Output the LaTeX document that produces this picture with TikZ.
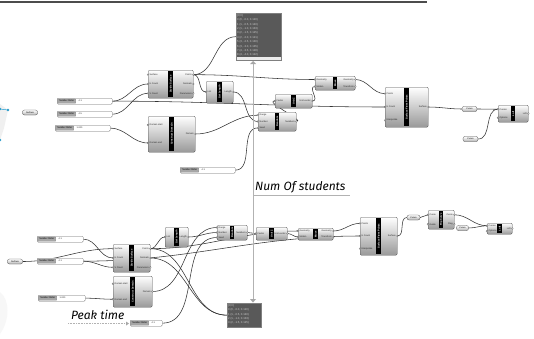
\documentclass[tikz,border=0pt]{standalone}
\usepackage{fontspec}
\setmainfont{Liberation Sans}
\newfontfamily\handfont{Fira Sans}
\usetikzlibrary{positioning}
\usetikzlibrary{calc}
\pgfdeclarelayer{bg}
\pgfsetlayers{bg,main}

\newcommand{\tinyfont}{\fontsize{2.3}{2.6}\selectfont}

\tikzset{
    ghbox/.style = {draw=black!70, line width=0.3pt, rounded corners=1.2pt,
        top color=white, bottom color=black!40, inner sep=0pt},
    ghstrip/.style = {fill=black, text=white, font=\bfseries\fontsize{2.5}{2.8}\selectfont,
        inner sep=0.2pt, minimum height=4.4pt},
    ghport/.style = {font=\tinyfont, inner sep=0.6pt, text=black!85},
    ghnub/.style = {fill=white, draw=black!70, line width=0.2pt},
    ghparam/.style = {draw=black!70, line width=0.3pt, rounded corners=2pt, top color=white,
        bottom color=black!30, font=\tinyfont, inner sep=0pt, minimum height=5pt, minimum width=15pt},
    ghslide/.style = {draw=black!60, line width=0.3pt, rounded corners=1pt, fill=white,
        inner sep=0pt, minimum height=6pt},
    slidelab/.style = {draw=black!60, line width=0.2pt, fill=black!35, rounded corners=0.6pt,
        font=\tinyfont, inner sep=0.3pt, minimum height=4.4pt, minimum width=18pt},
    ghpanel/.style = {fill=black!65, draw=black!50, line width=0.3pt, inner sep=0pt},
    paneltext/.style = {font=\fontsize{2.8}{4.4}\selectfont, text=black!20, align=left, inner sep=1pt},
    wire/.style = {draw=black!80, line width=0.55pt, out=0, in=180},
    guide/.style = {draw=black!30, line width=0.4pt},
    hand/.style = {font=\handfont\itshape\fontsize{12}{13}\selectfont, inner sep=0pt}
}

% component: name, x, y, width, height, title, inputs, outputs
\newcommand{\ghcomp}[8]{%
    \node[ghbox, anchor=north west, minimum width=#4pt, minimum height=#5pt] (#1) at (#2,#3) {};
    \node[ghstrip, rotate=90, minimum width=#5pt-2pt] (#1-t) at (#1.center) {#6};
    \foreach \lab [count=\k] in {#7} {\xdef\nin{\k}}
    \foreach \lab [count=\k] in {#7} {
        \coordinate (#1-i\k) at ($(#1.north west)+(0,{(\k-0.5)*#5/\nin})$);
        \node[ghport, anchor=west] at ([xshift=0.8pt]#1-i\k) {\lab};
        \draw[ghnub] (#1-i\k) circle (0.9pt);
    }
    \foreach \lab [count=\k] in {#8} {\xdef\nout{\k}}
    \foreach \lab [count=\k] in {#8} {
        \coordinate (#1-o\k) at ($(#1.north east)+(0,{(\k-0.5)*#5/\nout})$);
        \node[ghport, anchor=east] at ([xshift=-0.8pt]#1-o\k) {\lab};
        \draw[ghnub] (#1-o\k) circle (0.9pt);
    }
}

% slider: name, x, y, width, value
\newcommand{\ghslider}[5]{%
    \node[ghslide, anchor=north west, minimum width=#4pt] (#1) at (#2,#3) {};
    \node[slidelab, anchor=west] (#1-l) at ([xshift=0.6pt]#1.west) {Number Slider};
    \node[ghport, anchor=west] at ([xshift=2pt]#1-l.east) {#5};
    \coordinate (#1-o) at (#1.east);
}

\begin{document}
\begin{tikzpicture}[x=1pt, y=-1pt]
    \useasboundingbox (0,0) rectangle (534,338);
    \begin{pgfonlayer}{bg}
        \fill[white] (0,0) rectangle (534,338);
    \end{pgfonlayer}

    % canvas edge and preview geometry
    \draw[black!70, line width=1.2pt] (0,2) -- (427,2);
    \fill[black!6] (0,104) -- (8,110) -- (4,128) -- (0,140) -- cycle;
    \fill[black!3] (0,292) .. controls (10,300) and (10,320) .. (0,334) -- cycle;
    \draw[cyan!70!teal, line width=0.5pt] (0,109) -- (8,110);
    \foreach \p in {(8,110), (0,109), (0,140)}
        \fill[cyan!60!teal] \p circle (1.4pt);

    % upper definition
    \node[ghparam] (srfT) at (30,112.5) {Surface};
    \ghslider{sldT1}{57}{98}{55}{4.1}
    \ghslider{sldT2}{57}{111}{55}{4.5}
    \ghslider{sldT3}{55}{125}{55}{1.000}
    \ghslider{sldT4}{180}{167}{55}{4.1}

    \ghcomp{divT}{148}{70}{45}{28}{Divide Surface}{Surface, U Count, V Count}{Points, Normals, Parameters}
    \ghcomp{lenT}{206}{81}{27}{22}{List Length}{List}{Length}
    \ghcomp{domT}{148}{116}{47}{36}{Construct Domain}{Domain start, Domain end}{Domain}
    \ghcomp{rndT}{258}{112}{38}{19}{Random}{Range, Number, Seed}{Numbers}
    \ghcomp{unzT}{275}{94}{37}{14}{Unit Z}{Factor}{Unit vector}
    \ghcomp{movT}{315}{76}{40}{14}{Move}{Geometry, Motion}{Geometry, Transform}
    \ghcomp{sfpT}{385}{87}{43}{40}{Surface From Points}{Points, U Count, Interpolate}{Surface}
    \ghcomp{loftT}{498}{105}{30}{17}{Loft}{Curves, Options}{Loft}
    \node[ghparam] (crvT1) at (469.5,109) {Curve};
    \node[ghparam] (crvT2) at (470.5,139) {Curve};

    \node[ghpanel, anchor=north west, minimum width=45pt, minimum height=47pt] (pnlT) at (236,13) {};
    \fill[black!8] (236.5,56.5) rectangle (280.5,59.5);
    \node[paneltext, anchor=north west] at (pnlT.north west) {%
        \{0;0\}\\0 \{0, -0.0, 0.120\}\\1 \{1, -0.5, 0.140\}\\2 \{1, -1.0, 0.133\}\\
        3 \{2, -1.5, 0.125\}\\4 \{2, -2.0, 0.121\}\\5 \{3, -2.5, 0.130\}\\
        6 \{3, -3.0, 0.135\}\\7 \{4, -3.5, 0.128\}\\8 \{4, -4.0, 0.122\}};

    % relay between the two panels
    \draw[guide] (253,63) -- (253,300);
    \fill[black!35] (250,64) -- (253,61) -- (256,64) -- cycle;
    \fill[black!35] (250,299) -- (256,299) -- (253,302.5) -- cycle;

    \node[hand, anchor=west] (numtxt) at (255,187) {Num Of students};
    \draw[guide] (253,195) -- (350,195);

    % lower definition
    \node[ghparam] (srfB) at (15,261.5) {Surface};
    \ghslider{sldB1}{37}{236}{46}{4.1}
    \ghslider{sldB2}{37}{258}{46}{4.1}
    \ghslider{sldB3}{38}{295}{47}{1.000}
    \ghslider{sldB4}{130}{320}{32}{4.1}

    \ghcomp{divB}{113}{244}{37}{28}{Divide Surface}{Surface, U Count, V Count}{Points, Normals, Parameters}
    \ghcomp{domB}{113}{276}{39}{31}{Construct Domain}{Domain start, Domain end}{Domain}
    \ghcomp{lenB}{165}{227}{23}{20}{List Length}{List}{Length}
    \ghcomp{rndB}{217}{225}{30}{15}{Random}{Range, Number, Seed}{Numbers}
    \ghcomp{unzB}{256}{227}{31}{13}{Unit Z}{Factor}{Unit vector}
    \ghcomp{movB}{298}{228}{35}{12}{Move}{Geometry, Motion}{Geometry, Transform}
    \ghcomp{sfpB}{360}{217}{37}{38}{Surface From Points}{Points, U Count, Interpolate}{Surface}
    \ghcomp{flpB}{428}{210}{26}{19}{Flip Curve}{Curve, Guide}{Curve, Flag}
    \ghcomp{loftB}{487}{223}{25}{11}{Loft}{Curves, Options}{Loft}
    \node[ghparam, minimum width=13pt] (crvB1) at (413.5,217.5) {Curve};
    \node[ghparam, minimum width=12pt] (crvB2) at (462.5,228) {Curve};

    \node[ghpanel, anchor=north west, minimum width=34pt, minimum height=24pt] (pnlB) at (227,303) {};
    \node[paneltext, anchor=north west] at (pnlB.north west) {%
        \{0;0\}\\0 \{0, -0.0, 0.120\}\\1 \{1, -0.5, 0.140\}\\2 \{1, -1.0, 0.133\}\\3 \{2, -1.5, 0.125\}};

    \node[hand, anchor=west] (peaktxt) at (71,315) {Peak time};
    \draw[guide, dash pattern=on 1pt off 0.6pt] (68,323.5) -- (126,323.5);
    \fill[black!35] (126,321.5) -- (129,323.5) -- (126,325.5) -- cycle;

    % wires
    \begin{pgfonlayer}{bg}
        \draw[wire] (sldT1-o) to (divT-i2);
        \draw[wire] (sldT2-o) to (divT-i3);
        \draw[wire] (sldT3-o) to (domT-i2);
        \draw[wire] (sldT1-o) to (sfpT-i2);
        \draw[wire] (divT-o1) to (pnlT.west);
        \draw[wire] (divT-o1) to (lenT-i1);
        \draw[wire] (divT-o1) to (movT-i1);
        \draw[wire] (lenT-o1) to (rndT-i2);
        \draw[wire] (domT-o1) to (rndT-i1);
        \draw[wire] (sldT4-o) to (rndT-i3);
        \draw[wire] (rndT-o1) .. controls +(10,0) and +(-12,0) .. (unzT-i1);
        \draw[wire] (unzT-o1) .. controls +(8,0) and +(-8,0) .. (movT-i2);
        \draw[wire] (movT-o1) to (sfpT-i1);
        \draw[wire] (sfpT-o1) to (crvT1.west);
        \draw[wire] (crvT1.east) to (loftT-i1);
        \draw[wire] (crvT2.east) to (loftT-i1);

        \draw[wire] (sldB1-o) to (divB-i2);
        \draw[wire] (srfB.east) to (divB-i1);
        \draw[wire] (sldB2-o) to (divB-i3);
        \draw[wire] (sldB2-o) to (sfpB-i2);
        \draw[wire] (sldB3-o) to (domB-i2);
        \draw[wire] (divB-o1) to (lenB-i1);
        \draw[wire] (divB-o1) to (movB-i1);
        \draw[wire] (divB-o1) to (pnlB.west);
        \draw[wire] (divB-o2) to (pnlB.west);
        \draw[wire] (domB-o1) to (rndB-i1);
        \draw[wire] (lenB-o1) to (rndB-i2);
        \draw[wire] (sldB4-o) to (rndB-i3);
        \draw[wire] (rndB-o1) to (unzB-i1);
        \draw[wire] (unzB-o1) to (movB-i2);
        \draw[wire] (movB-o1) to (sfpB-i1);
        \draw[wire] (sfpB-o1) to (crvB1.west);
        \draw[wire] (crvB1.east) to (flpB-i1);
        \draw[wire] (flpB-o1) to (loftB-i1);
        \draw[wire] (crvB2.east) to (loftB-i1);
    \end{pgfonlayer}
\end{tikzpicture}
\end{document}
